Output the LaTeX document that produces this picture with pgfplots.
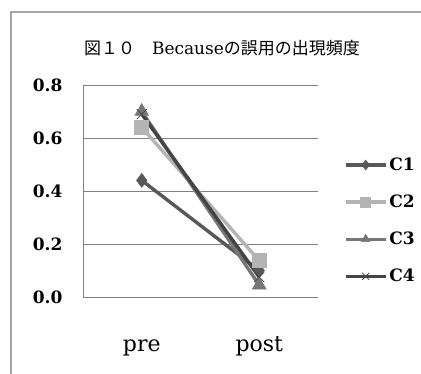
\documentclass[border=0pt]{standalone}
\usepackage{pgfplots}
\pgfplotsset{compat=1.18}
\usepackage{fontspec}
\setmainfont{DejaVu Serif}
\newfontfamily\cjk{Noto Sans CJK JP}
\definecolor{cA}{HTML}{585858}
\definecolor{cB}{HTML}{B4B4B4}
\definecolor{cC}{HTML}{767676}
\definecolor{cD}{HTML}{444444}
\begin{document}
\begin{tikzpicture}
\begin{axis}[
  anchor=origin,
  scale only axis, width=235pt, height=212pt,
  xmin=0, xmax=2, ymin=0, ymax=0.8,
  xtick={0.5,1.5}, xticklabels={pre,post},
  ytick={0,0.2,0.4,0.6,0.8},
  axis lines=left, axis line style={-, gray},
  ymajorgrids, grid style={gray, line width=0.6pt},
  major tick length=0pt,
  /pgf/number format/.cd, fixed, fixed zerofill, precision=1, assume math mode=true,
  /pgfplots/.cd,
  yticklabel style={font=\fontsize{17}{20}\selectfont\bfseries, anchor=east, xshift=-17pt},
  xticklabel style={font=\fontsize{22}{26}\selectfont, anchor=base, yshift=-55pt},
  legend style={at={(1.097,0.36)}, anchor=west, draw=none, fill=none,
    font=\fontsize{17}{20}\selectfont\bfseries, row sep=19pt,
    cells={anchor=west}},
  legend image code/.code={\draw[mark repeat=2,mark phase=2] plot coordinates {(0pt,0pt)(20pt,0pt)(40pt,0pt)};},
  legend image post style={mark size=5pt},
  every axis plot/.append style={line width=3.4pt},
]
\addplot[color=cA, mark=diamond*, mark size=7pt, mark options={solid, line width=0.5pt}] coordinates {(0.5,0.44) (1.5,0.10)};
\addplot[color=cB, mark=square*, mark size=7pt, mark options={solid, line width=0.5pt}] coordinates {(0.5,0.64) (1.5,0.137)};
\addplot[color=cC, mark=triangle*, mark size=8pt, mark options={solid, line width=0.5pt}] coordinates {(0.5,0.70) (1.5,0.045)};
\addplot[color=cD, mark=x, mark size=7pt, mark options={solid, line width=0.8pt}] coordinates {(0.5,0.69) (1.5,0.075)};
\legend{C1,C2,C3,C4}
\end{axis}
\begin{scope}[x=1pt,y=1pt,shift={(-83pt,-77pt)}]
\draw[gray!70, line width=1.5pt] (11,-5) -- (11,362) -- (430,362);
\node[font=\fontsize{17}{20}\selectfont] at (222,326) {{\cjk 図１０　}Because{\cjk の誤用の出現頻度}};
\pgfresetboundingbox
\useasboundingbox (0,0) rectangle (421,374);
\end{scope}
\end{tikzpicture}
\end{document}
